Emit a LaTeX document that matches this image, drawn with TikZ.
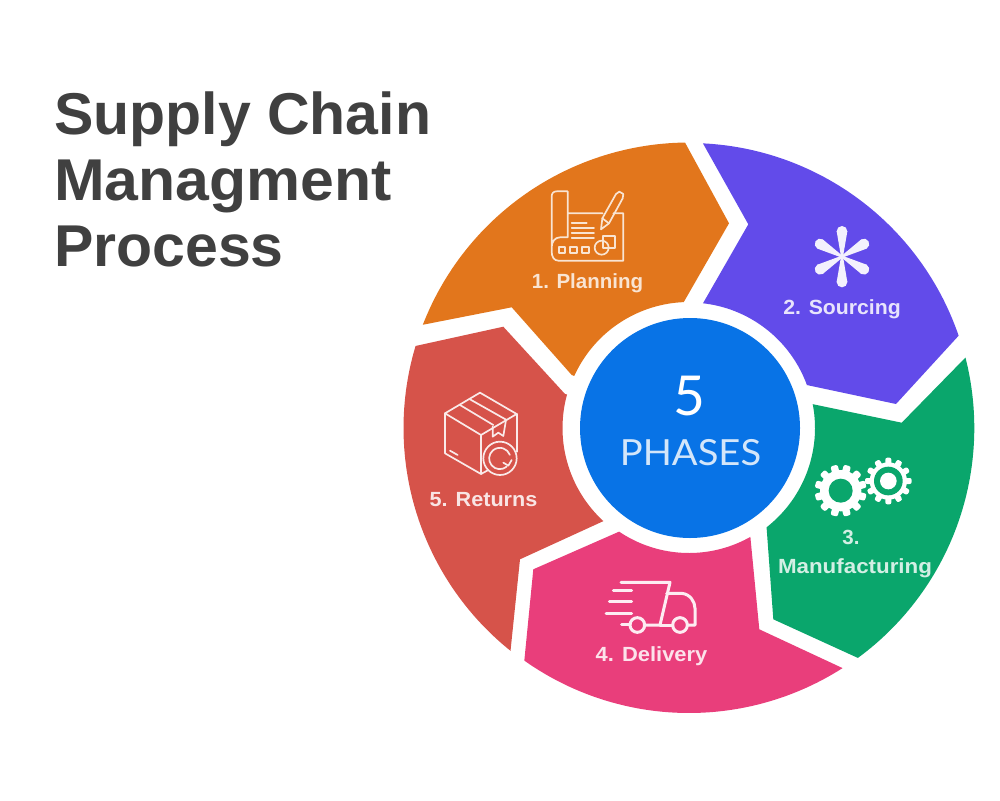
\documentclass[tikz,border=0pt]{standalone}
\usepackage{fontspec}
\usepackage{graphicx}
\setmainfont{Liberation Sans}
\newfontfamily\thinfont{Lato}
\definecolor{cOrange}{HTML}{E2761C}
\definecolor{cPurple}{HTML}{624BEA}
\definecolor{cGreen}{HTML}{0AA66C}
\definecolor{cPink}{HTML}{E93E7B}
\definecolor{cRed}{HTML}{D6534A}
\definecolor{cBlue}{HTML}{0873E6}
\definecolor{cTitle}{HTML}{404040}
\tikzset{
  lab/.style={font=\fontsize{20.5}{24}\selectfont\bfseries,inner sep=0pt},
  ico/.style={line width=1.7pt,line join=round,line cap=round},
  icb/.style={line width=3pt,line join=round,line cap=round},
}
\begin{document}
\begin{tikzpicture}[x=1pt,y=-1pt]
\useasboundingbox (0,0) rectangle (1000,800);
\node[anchor=north west,align=left,inner sep=0pt,text=cTitle,font=\fontsize{59}{66}\selectfont\bfseries] (title) at (54,92) {Supply Chain\\\scalebox{1.03}[1]{Managment}\\Process};
% segments
\fill[cOrange] (511.7,307.3) -- (571.7,375) -- plot[domain=155.6:92.4,samples=40] ({689+126*cos(\x)},{428-126*sin(\x)}) -- (729,223.3) -- plot[domain=90.8:158.8,samples=60] ({689+285.5*cos(\x)},{428-285.5*sin(\x)}) -- cycle;
\fill[cPurple] (748.3,224.3) -- plot[domain=87.2:18.9,samples=60] ({689+285*cos(\x)},{428-285*sin(\x)}) -- (896,404) -- (806.7,385) -- plot[domain=20:83.6,samples=40] ({689+125.5*cos(\x)},{428-125.5*sin(\x)}) -- cycle;
\fill[cGreen] (901.7,422.7) -- plot[domain=14.3:-53.7,samples=60] ({689+285.3*cos(\x)},{428-285.3*sin(\x)}) -- (773.3,619.3) -- plot[domain=-52:10.9,samples=40] ({689+126*cos(\x)},{428-126*sin(\x)}) -- cycle;
\fill[cPink] (759.3,629.3) -- plot[domain=-57.4:-125.3,samples=60] ({689+285*cos(\x)},{428-285*sin(\x)}) -- (533.3,569.3) -- plot[domain=-124:-60.6,samples=40] ({689+125*cos(\x)},{428-125*sin(\x)}) -- cycle;
\fill[cRed] (503.3,326.7) -- (565,394) -- plot[domain=164.6:227.4,samples=40] ({689+126.5*cos(\x)},{428-126.5*sin(\x)}) -- (520,559.3) -- plot[domain=231.3:163.3,samples=60] ({689+285.5*cos(\x)},{428-285.5*sin(\x)}) -- cycle;
% centre
\node[circle,fill=cBlue,minimum size=220pt,inner sep=0pt] (hub) at (690,428) {};
\node[text=white,font=\thinfont\fontsize{55}{60}\selectfont,inner sep=0pt] (five) at (689,396) {5};
\node[text=white!82!cBlue,font=\thinfont\fontsize{36}{42}\selectfont,inner sep=0pt] (phases) at (690.5,453) {\scalebox{1.06}[1]{PHASES}};
% labels
\node[lab,text=white!80!cOrange] (l1) at (587.5,283) {1. Planning};
\node[lab,text=white!85!cPurple] (l2) at (842,309) {\scalebox{1.035}[1]{2. Sourcing}};
\node[lab,text=white!82!cGreen] (l3a) at (851,537.5) {3.};
\node[lab,text=white!82!cGreen] (l3b) at (855,568) {\scalebox{1.09}[1]{Manufacturing}};
\node[lab,text=white!85!cPink] (l4) at (651.5,656) {\scalebox{1.07}[1]{4. Delivery}};
\node[lab,text=white!85!cRed] (l5) at (483.5,499.5) {\scalebox{1.055}[1]{5. Returns}};
% planning icon
\begin{scope}[shift={(400,130)},scale=1/3,draw=white!80!cOrange,ico]
\draw (503,250) -- (608,250) (640,250) -- (670,250) -- (670,392) -- (475,392) .. controls (462,392) and (455,380) .. (455,365) -- (455,200) .. controls (455,190) and (460,184) .. (470,184) -- (503,184) -- (503,322) -- (480,322) .. controls (465,322) and (455,335) .. (455,352);
\draw (515,278) -- (560,278) (515,295) -- (582,295) (515,310) -- (582,310) (515,325) -- (582,325);
\draw (476,351) rectangle (495,370) (511,351) rectangle (530,370) (547,351) rectangle (566,370);
\draw (610,318) rectangle (645,355);
\draw (605,353) circle (21);
\draw (603,298) -- (607,265) -- (648,192) -- (658,185) -- (670,192) -- (668,205) -- (627,280) -- cycle;
\draw (607,265) -- (627,280);
\end{scope}
% sourcing icon
\begin{scope}[shift={(690,130)},scale=1/3]
\foreach \a in {0,60,...,300}{
  \fill[white!92!cPurple,shift={(456,380)},rotate=\a] (-3,0) -- (-16,76) -- (16,76) -- (3,0) -- cycle;
  \fill[white!92!cPurple,shift={(456,380)},rotate=\a] (0,76) circle (16);
}
\end{scope}
% gears
\begin{scope}[shift={(740,350)},scale=1/3]
\fill[white] (302,422) circle (62);
\foreach \a in {0,30,...,330}{
  \fill[white,shift={(302,422)},rotate=\a+15,rounded corners=2pt] (-11,-50) rectangle (11,-78);
}
\fill[cGreen] (302,422) circle (36);
\fill[white] (445,393) circle (56);
\foreach \a in {0,30,...,330}{
  \fill[white,shift={(445,393)},rotate=\a,rounded corners=2pt] (-9,-45) rectangle (9,-70);
}
\fill[cGreen] (445,393) circle (43);
\fill[white] (445,393) circle (25);
\end{scope}
% truck
\begin{scope}[shift={(510,520)},scale=1/3,draw=white!90!cPink,icb]
\draw (333,187) -- (480,187) -- (450,315) -- (402,315);
\draw (470,220) -- (515,220) .. controls (540,222) and (555,245) .. (555,265) -- (555,315) -- (533,315);
\draw (450,315) -- (488,315);
\draw (382,315) circle (22) (510,315) circle (22);
\draw (310,210) -- (365,210) (298,245) -- (365,245) (288,280) -- (365,280) (335,314) -- (360,314);
\end{scope}
% box
\begin{scope}[shift={(395,320)},scale=1/3,draw=white!88!cRed,ico]
\draw (150,280) -- (255,218) -- (365,282) -- (258,345) -- cycle;
\draw (150,280) -- (150,400) -- (258,462) -- (258,345);
\draw (365,282) -- (365,395);
\draw (258,462) -- (280,450);
\draw (195,255) -- (295,315) (225,238) -- (335,300);
\draw (293,320) -- (293,350) -- (310,338) -- (325,348) -- (333,300);
\draw (165,392) -- (188,405);
\draw (315,415) circle (50);
\draw (335,440) arc[start angle=50,end angle=340,radius=32];
\draw (325,428) -- (340,437) -- (350,420);
\end{scope}
\end{tikzpicture}
\end{document}
